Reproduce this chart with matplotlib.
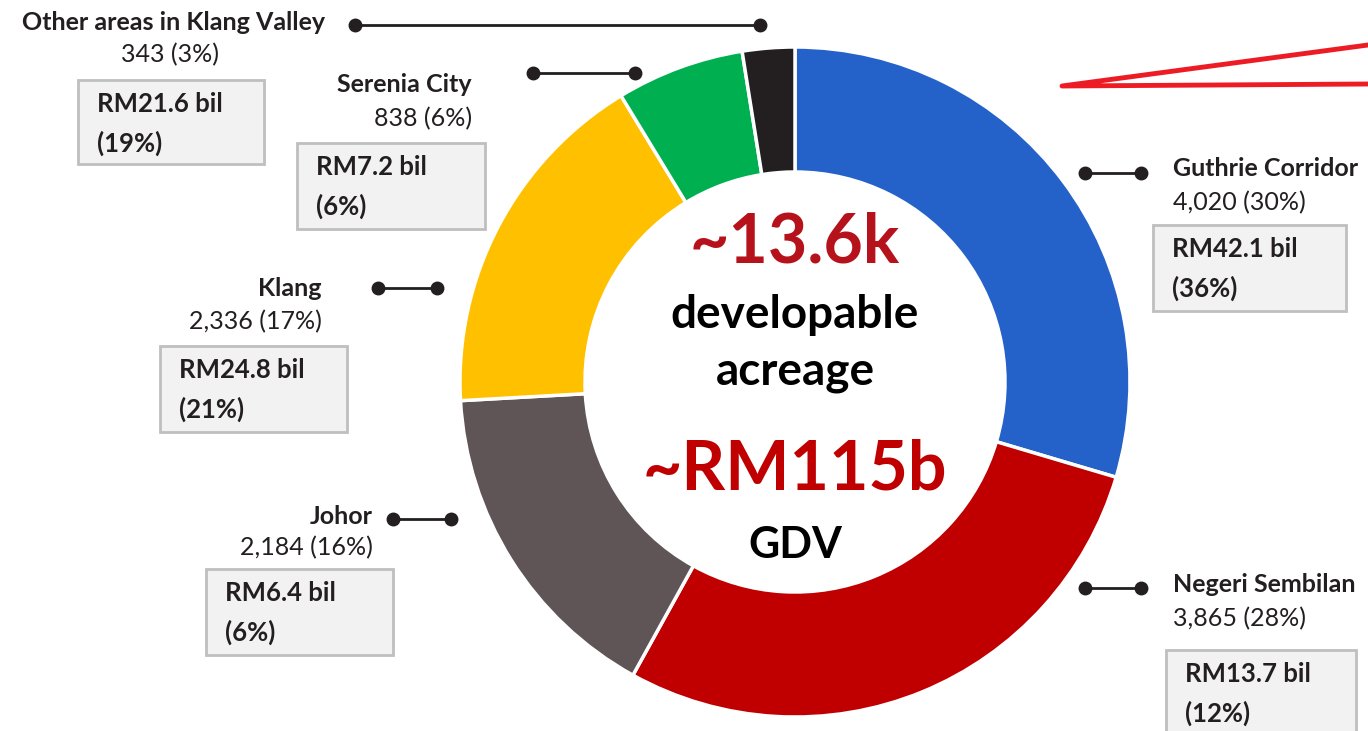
import matplotlib
matplotlib.use("Agg")
import matplotlib.pyplot as plt
from matplotlib.patches import Rectangle

plt.rcParams['font.family'] = ['Lato', 'DejaVu Sans']

# data
regions = ['Guthrie Corridor', 'Negeri Sembilan', 'Johor', 'Klang',
           'Serenia City', 'Other areas in Klang Valley']
acres = [4020, 3865, 2184, 2336, 838, 343]
acre_pct = ['30%', '28%', '16%', '17%', '6%', '3%']
gdv = ['RM42.1 bil', 'RM13.7 bil', 'RM6.4 bil', 'RM24.8 bil', 'RM7.2 bil', 'RM21.6 bil']
gdv_pct = ['36%', '12%', '6%', '21%', '6%', '19%']
colors = ['#2462C9', '#C00000', '#5F5456', '#FFC000', '#00B050', '#231F20']

W, H = 1368, 731
def Y(py):
    return H - py

fig = plt.figure(figsize=(13.68, 7.31), dpi=100)
ax = fig.add_axes([0, 0, 1, 1])

ax.pie(acres, colors=colors, startangle=90, counterclock=False,
       center=(795, Y(382)), radius=335,
       wedgeprops=dict(width=125, edgecolor='white', linewidth=2.5))
ax.set_xlim(0, W)
ax.set_ylim(0, H)
ax.set_aspect('equal')
ax.axis('off')

# label layout: (name x, name y, align, line x0, x1, line y, value y, box x, box y, box w, box h)
layout = {
    'Guthrie Corridor':   (1173, 168, 'left', 1085, 1141, 173, 203, 1153, 225, 193, 86),
    'Negeri Sembilan':    (1173, 584, 'left', 1085, 1141, 588, 619, 1166, 650, 190, 90),
    'Johor':              (373, 516, 'right', 393, 451, 519, 548, 206, 569, 187, 86),
    'Klang':              (322, 288, 'right', 378, 437, 288, 322, 160, 346, 187, 86),
    'Serenia City':       (472, 84, 'right', 533, 635, 73, 119, 297, 143, 188, 86),
    'Other areas in Klang Valley': (325, 22, 'right', 355, 760, 25, 55, 78, 80, 186, 84),
}
value_x = {'Other areas in Klang Valley': (170, 'center')}

for i, name in enumerate(regions):
    nx, ny, ha, lx0, lx1, ly, vy, bx, by, bw, bh = layout[name]
    ax.text(nx, Y(ny), name, ha=ha, va='center', fontsize=18,
            fontweight='bold', color='#231F20')
    vx, vha = value_x.get(name, (nx, ha))
    ax.text(vx, Y(vy), f'{acres[i]:,} ({acre_pct[i]})', ha=vha, va='center',
            fontsize=18, color='#231F20')
    ax.plot([lx0, lx1], [Y(ly), Y(ly)], color='#231F20', lw=2,
            marker='o', markersize=9, solid_capstyle='round')
    ax.add_patch(Rectangle((bx, Y(by + bh)), bw, bh, facecolor='#F2F2F2',
                           edgecolor='#BFBFBF', lw=2))
    ax.text(bx + 19, Y(by + 24), gdv[i], ha='left', va='center',
            fontsize=18.5, fontweight='bold', color='#231F20')
    ax.text(bx + 19, Y(by + 63), f'({gdv_pct[i]})', ha='left', va='center',
            fontsize=18.5, fontweight='bold', color='#231F20')

# centre text
ax.text(795, Y(243), '~13.6k', ha='center', va='center', fontsize=49,
        fontweight='bold', color='#B5121B')
ax.text(795, Y(315), 'developable', ha='center', va='center', fontsize=33,
        fontweight='bold', color='black')
ax.text(795, Y(372), 'acreage', ha='center', va='center', fontsize=33,
        fontweight='bold', color='black')
ax.text(795, Y(470), '~RM115b', ha='center', va='center', fontsize=49,
        fontweight='bold', color='#C00000')
ax.text(795, Y(545), 'GDV', ha='center', va='center', fontsize=31,
        fontweight='bold', color='black')

# red callout lines at top right
ax.plot([1368, 1062, 1368], [Y(45), Y(86), Y(84)], color='#ED1C24', lw=3.5,
        solid_joinstyle='round', solid_capstyle='round', clip_on=False)

fig.savefig('out.png', dpi=100)
